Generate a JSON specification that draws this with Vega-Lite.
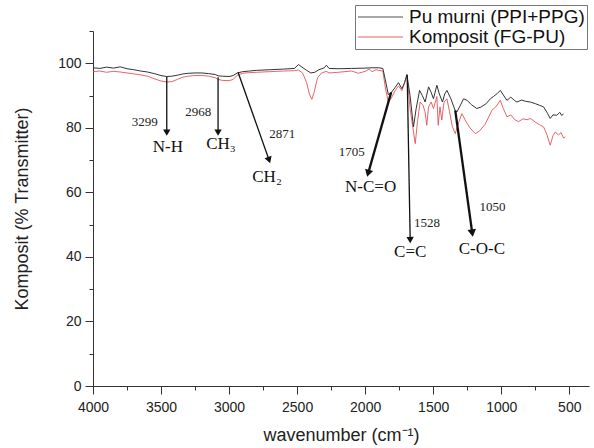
{
  "$schema": "https://vega.github.io/schema/vega-lite/v6.json",
  "width": 496,
  "height": 355,
  "autosize": "none",
  "padding": {"left": 93, "top": 31, "right": 5, "bottom": 62},
  "background": "white",
  "config": {
    "view": {"stroke": null},
    "font": "Liberation Sans",
    "axis": {"grid": false, "domainColor": "#333", "tickColor": "#333", "labelColor": "#222", "titleColor": "#222", "labelFont": "Liberation Sans", "titleFont": "Liberation Sans", "titleFontWeight": "normal"}
  },
  "datasets": {
    "pu": [
      {"wn":4000,"T":98.6},{"wn":3950,"T":98.4},{"wn":3900,"T":98.8},{"wn":3850,"T":98.5},{"wn":3800,"T":98.9},{"wn":3750,"T":98.3},{"wn":3700,"T":98.0},{"wn":3650,"T":97.6},{"wn":3600,"T":97.3},{"wn":3550,"T":96.8},{"wn":3500,"T":96.2},{"wn":3458,"T":95.9},{"wn":3420,"T":96.0},{"wn":3380,"T":96.3},{"wn":3340,"T":96.7},{"wn":3300,"T":96.9},{"wn":3250,"T":97.0},{"wn":3200,"T":97.0},{"wn":3150,"T":96.8},{"wn":3100,"T":96.5},{"wn":3080,"T":96.1},{"wn":3050,"T":96.0},{"wn":3000,"T":95.9},{"wn":2970,"T":96.2},{"wn":2940,"T":97.0},{"wn":2900,"T":97.4},{"wn":2850,"T":97.6},{"wn":2800,"T":97.8},{"wn":2700,"T":98.0},{"wn":2600,"T":98.2},{"wn":2520,"T":98.4},{"wn":2490,"T":99.6},{"wn":2470,"T":99.0},{"wn":2430,"T":97.8},{"wn":2400,"T":97.0},{"wn":2370,"T":97.2},{"wn":2340,"T":98.0},{"wn":2300,"T":98.6},{"wn":2285,"T":99.4},{"wn":2265,"T":98.4},{"wn":2200,"T":98.3},{"wn":2100,"T":98.4},{"wn":2000,"T":98.5},{"wn":1950,"T":98.6},{"wn":1900,"T":98.6},{"wn":1870,"T":98.4},{"wn":1850,"T":94.5},{"wn":1830,"T":90.3},{"wn":1810,"T":90.8},{"wn":1780,"T":92.5},{"wn":1755,"T":94.0},{"wn":1730,"T":92.1},{"wn":1710,"T":94.0},{"wn":1693,"T":96.5},{"wn":1670,"T":90.0},{"wn":1645,"T":80.3},{"wn":1625,"T":86.0},{"wn":1600,"T":91.6},{"wn":1580,"T":90.0},{"wn":1559,"T":88.0},{"wn":1534,"T":92.7},{"wn":1515,"T":91.0},{"wn":1498,"T":89.0},{"wn":1473,"T":93.2},{"wn":1455,"T":90.5},{"wn":1432,"T":88.0},{"wn":1415,"T":90.5},{"wn":1399,"T":91.6},{"wn":1370,"T":89.0},{"wn":1340,"T":85.5},{"wn":1326,"T":84.9},{"wn":1300,"T":87.0},{"wn":1277,"T":89.0},{"wn":1250,"T":88.5},{"wn":1220,"T":87.2},{"wn":1180,"T":86.0},{"wn":1150,"T":86.4},{"wn":1110,"T":87.5},{"wn":1080,"T":89.0},{"wn":1057,"T":89.7},{"wn":1030,"T":90.6},{"wn":1007,"T":91.6},{"wn":985,"T":90.2},{"wn":958,"T":88.5},{"wn":930,"T":89.5},{"wn":900,"T":88.4},{"wn":885,"T":88.0},{"wn":850,"T":88.6},{"wn":820,"T":88.2},{"wn":787,"T":88.0},{"wn":750,"T":87.5},{"wn":720,"T":87.0},{"wn":689,"T":86.5},{"wn":660,"T":84.5},{"wn":640,"T":82.9},{"wn":620,"T":84.0},{"wn":591,"T":83.9},{"wn":570,"T":84.8},{"wn":555,"T":83.8},{"wn":542,"T":84.4}
    ],
    "komp": [
      {"wn":4000,"T":97.4},{"wn":3950,"T":97.6},{"wn":3900,"T":97.2},{"wn":3850,"T":97.5},{"wn":3800,"T":97.3},{"wn":3750,"T":97.0},{"wn":3700,"T":96.7},{"wn":3650,"T":96.4},{"wn":3600,"T":96.0},{"wn":3550,"T":95.2},{"wn":3500,"T":94.5},{"wn":3458,"T":94.2},{"wn":3420,"T":94.3},{"wn":3380,"T":95.0},{"wn":3340,"T":95.7},{"wn":3300,"T":96.0},{"wn":3250,"T":96.2},{"wn":3200,"T":96.2},{"wn":3150,"T":96.0},{"wn":3100,"T":95.5},{"wn":3080,"T":95.0},{"wn":3050,"T":94.7},{"wn":3000,"T":94.6},{"wn":2970,"T":95.0},{"wn":2940,"T":96.3},{"wn":2900,"T":96.9},{"wn":2850,"T":97.1},{"wn":2800,"T":97.2},{"wn":2700,"T":97.4},{"wn":2600,"T":97.6},{"wn":2520,"T":97.7},{"wn":2490,"T":97.9},{"wn":2460,"T":97.0},{"wn":2430,"T":94.0},{"wn":2410,"T":90.5},{"wn":2392,"T":88.8},{"wn":2375,"T":91.0},{"wn":2350,"T":95.5},{"wn":2320,"T":97.0},{"wn":2285,"T":97.5},{"wn":2265,"T":97.0},{"wn":2200,"T":97.2},{"wn":2100,"T":97.6},{"wn":2050,"T":96.9},{"wn":2000,"T":97.5},{"wn":1970,"T":98.2},{"wn":1950,"T":97.4},{"wn":1920,"T":98.0},{"wn":1900,"T":97.8},{"wn":1870,"T":97.6},{"wn":1850,"T":92.0},{"wn":1830,"T":88.0},{"wn":1810,"T":89.0},{"wn":1780,"T":91.5},{"wn":1755,"T":93.0},{"wn":1730,"T":91.5},{"wn":1710,"T":94.0},{"wn":1693,"T":96.5},{"wn":1670,"T":86.0},{"wn":1632,"T":75.1},{"wn":1615,"T":82.0},{"wn":1596,"T":88.0},{"wn":1575,"T":87.0},{"wn":1560,"T":85.0},{"wn":1547,"T":80.8},{"wn":1534,"T":86.5},{"wn":1515,"T":88.0},{"wn":1498,"T":86.0},{"wn":1473,"T":89.7},{"wn":1463,"T":80.8},{"wn":1450,"T":86.5},{"wn":1437,"T":82.4},{"wn":1420,"T":88.0},{"wn":1399,"T":89.0},{"wn":1380,"T":85.0},{"wn":1360,"T":80.5},{"wn":1338,"T":78.2},{"wn":1310,"T":82.0},{"wn":1289,"T":84.4},{"wn":1260,"T":82.0},{"wn":1230,"T":80.0},{"wn":1191,"T":78.2},{"wn":1160,"T":79.0},{"wn":1120,"T":81.0},{"wn":1090,"T":83.5},{"wn":1069,"T":85.4},{"wn":1040,"T":86.5},{"wn":1007,"T":88.5},{"wn":985,"T":86.0},{"wn":958,"T":83.4},{"wn":930,"T":84.0},{"wn":900,"T":82.5},{"wn":873,"T":81.9},{"wn":840,"T":82.8},{"wn":810,"T":82.5},{"wn":787,"T":82.9},{"wn":750,"T":81.8},{"wn":720,"T":81.0},{"wn":689,"T":80.3},{"wn":665,"T":78.0},{"wn":640,"T":74.6},{"wn":620,"T":77.5},{"wn":603,"T":78.7},{"wn":580,"T":77.8},{"wn":560,"T":78.5},{"wn":542,"T":76.8},{"wn":529,"T":77.2}
    ],
    "arrows": [
      {"label":"N-H","x1":3458,"y1":95.8,"x2":3458,"y2":78.5},
      {"label":"CH3","x1":3081,"y1":95.7,"x2":3081,"y2":78.5},
      {"label":"CH2","x1":2934,"y1":97.2,"x2":2706,"y2":70.0},
      {"label":"NCO","x1":1809,"y1":91.0,"x2":1978,"y2":65.9},
      {"label":"CC","x1":1691,"y1":96.3,"x2":1669,"y2":45.2},
      {"label":"COC","x1":1338,"y1":85.4,"x2":1213,"y2":47.4}
    ],
    "nums": [
      {"text":"3299","wn":3620,"T":81.8},
      {"text":"2968","wn":3226,"T":84.9},
      {"text":"2871","wn":2609,"T":78.2},
      {"text":"1705","wn":2098,"T":72.5},
      {"text":"1528","wn":1546,"T":50.4},
      {"text":"1050","wn":1064,"T":55.5}
    ],
    "groups": [
      {"text":"N-H","wn":3450,"T":74.1},
      {"text":"CH₃","wn":3060,"T":75.1},
      {"text":"CH₂","wn":2721,"T":64.8},
      {"text":"N-C=O","wn":1960,"T":61.7},
      {"text":"C=C","wn":1669,"T":41.6},
      {"text":"C-O-C","wn":1142,"T":42.6}
    ]
  },
  "resolve": {"axis": {"x": "independent", "y": "independent"}},
  "layer": [
    {
      "data": {"name": "pu"},
      "mark": {"type": "point", "opacity": 0},
      "encoding": {
        "x": {"field": "wn", "type": "quantitative", "scale": {"domain": [4000, 355], "nice": false, "zero": false},
              "axis": {"orient": "bottom", "values": [3750, 3250, 2750, 2250, 1750, 1250, 750], "labels": false, "domain": false, "tickSize": 4, "title": null}},
        "y": {"field": "T", "type": "quantitative", "scale": {"domain": [0, 110], "nice": false},
              "axis": {"orient": "left", "values": [10, 30, 50, 70, 90, 110], "labels": false, "domain": false, "tickSize": 4, "title": null}}
      }
    },
    {
      "data": {"name": "komp"},
      "mark": {"type": "line", "strokeWidth": 1, "opacity": 0.85},
      "encoding": {
        "x": {"field": "wn", "type": "quantitative",
              "axis": {"orient": "bottom", "values": [4000, 3500, 3000, 2500, 2000, 1500, 1000, 500], "format": "d", "tickSize": 8, "labelPadding": 6, "labelFontSize": 14, "labelOverlap": false, "labelFlush": false, "title": "wavenumber (cm⁻¹)", "titleFontSize": 18, "titlePadding": 12}},
        "y": {"field": "T", "type": "quantitative",
              "axis": {"orient": "left", "values": [0, 20, 40, 60, 80, 100], "format": "d", "tickSize": 8, "labelPadding": 4, "labelFontSize": 14, "labelOverlap": false, "title": "Komposit (% Transmitter)", "titleFontSize": 18, "titlePadding": 26}},
        "color": {"datum": "Komposit (FG-PU)", "type": "nominal",
                  "scale": {"domain": ["Pu murni (PPI+PPG)", "Komposit (FG-PU)"], "range": ["#333333", "#e5484d"]},
                  "legend": {"orient": "none", "legendX": 262, "legendY": -26, "title": null, "symbolType": "stroke", "symbolSize": 2025, "symbolStrokeWidth": 1.2, "clipHeight": 20, "labelFontSize": 19, "labelColor": "#111", "labelLimit": 300, "strokeColor": "#777", "fillColor": "white", "padding": 2, "rowPadding": 0, "labelOffset": 5}}
      }
    },
    {
      "data": {"name": "pu"},
      "mark": {"type": "line", "strokeWidth": 1},
      "encoding": {
        "x": {"field": "wn", "type": "quantitative", "axis": null},
        "y": {"field": "T", "type": "quantitative", "axis": null},
        "color": {"datum": "Pu murni (PPI+PPG)", "type": "nominal"}
      }
    },
    {
      "data": {"name": "arrows"},
      "transform": [{"filter": "datum.label !== 'NCO' && datum.label !== 'COC'"}],
      "mark": {"type": "rule", "color": "#111", "strokeWidth": 1.3},
      "encoding": {
        "x": {"field": "x1", "type": "quantitative", "axis": null},
        "y": {"field": "y1", "type": "quantitative", "axis": null},
        "x2": {"field": "x2"},
        "y2": {"field": "y2"}
      }
    },
    {
      "data": {"name": "arrows"},
      "transform": [{"filter": "datum.label === 'NCO' || datum.label === 'COC'"}],
      "mark": {"type": "rule", "color": "#111", "strokeWidth": 2.3},
      "encoding": {
        "x": {"field": "x1", "type": "quantitative", "axis": null},
        "y": {"field": "y1", "type": "quantitative", "axis": null},
        "x2": {"field": "x2"},
        "y2": {"field": "y2"}
      }
    },
    {
      "data": {"name": "arrows"},
      "transform": [{"filter": "datum.label === 'N-H' || datum.label === 'CH3'"}],
      "mark": {"type": "point", "shape": "triangle-down", "filled": true, "color": "#111", "size": 55, "opacity": 1},
      "encoding": {
        "x": {"field": "x2", "type": "quantitative", "axis": null},
        "y": {"field": "y2", "type": "quantitative", "axis": null}
      }
    },
    {
      "data": {"name": "arrows"},
      "transform": [{"filter": "datum.label === 'CH2'"}],
      "mark": {"type": "point", "shape": "triangle-down", "filled": true, "color": "#111", "size": 55, "opacity": 1, "angle": -19},
      "encoding": {
        "x": {"field": "x2", "type": "quantitative", "axis": null},
        "y": {"field": "y2", "type": "quantitative", "axis": null}
      }
    },
    {
      "data": {"name": "arrows"},
      "transform": [{"filter": "datum.label === 'NCO'"}],
      "mark": {"type": "point", "shape": "triangle-down", "filled": true, "color": "#111", "size": 70, "opacity": 1, "angle": 16},
      "encoding": {
        "x": {"field": "x2", "type": "quantitative", "axis": null},
        "y": {"field": "y2", "type": "quantitative", "axis": null}
      }
    },
    {
      "data": {"name": "arrows"},
      "transform": [{"filter": "datum.label === 'CC'"}],
      "mark": {"type": "point", "shape": "triangle-down", "filled": true, "color": "#111", "size": 55, "opacity": 1, "angle": -1},
      "encoding": {
        "x": {"field": "x2", "type": "quantitative", "axis": null},
        "y": {"field": "y2", "type": "quantitative", "axis": null}
      }
    },
    {
      "data": {"name": "arrows"},
      "transform": [{"filter": "datum.label === 'COC'"}],
      "mark": {"type": "point", "shape": "triangle-down", "filled": true, "color": "#111", "size": 75, "opacity": 1, "angle": -8},
      "encoding": {
        "x": {"field": "x2", "type": "quantitative", "axis": null},
        "y": {"field": "y2", "type": "quantitative", "axis": null}
      }
    },
    {
      "data": {"name": "nums"},
      "mark": {"type": "text", "font": "Liberation Serif", "fontSize": 13, "color": "#222"},
      "encoding": {
        "x": {"field": "wn", "type": "quantitative", "axis": null},
        "y": {"field": "T", "type": "quantitative", "axis": null},
        "text": {"field": "text"}
      }
    },
    {
      "data": {"name": "groups"},
      "mark": {"type": "text", "font": "Liberation Serif", "fontSize": 17, "color": "#111"},
      "encoding": {
        "x": {"field": "wn", "type": "quantitative", "axis": null},
        "y": {"field": "T", "type": "quantitative", "axis": null},
        "text": {"field": "text"}
      }
    }
  ]
}
